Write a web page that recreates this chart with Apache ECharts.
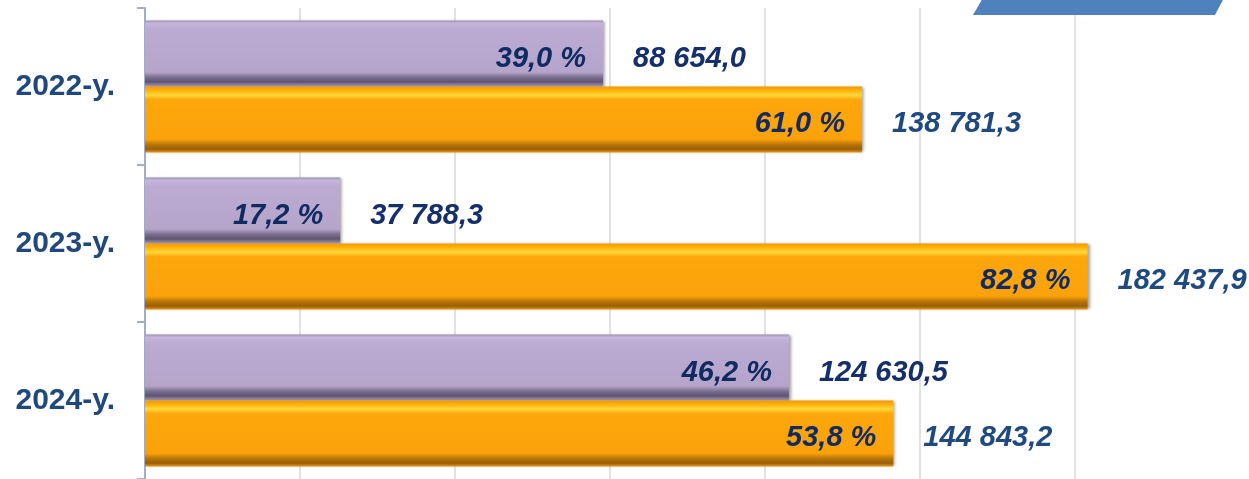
<!DOCTYPE html>
<html>
<head>
<meta charset="utf-8">
<script src="https://cdn.jsdelivr.net/npm/echarts@6/dist/echarts.min.js"></script>
<style>
  html, body { margin: 0; padding: 0; background: #ffffff; }
  #chart { width: 1249px; height: 479px; }
</style>
</head>
<body>
<div id="chart"></div>
<script>
const years = ['2022-y.', '2023-y.', '2024-y.']
const purpleValues = [88654.0, 37788.3, 124630.5]
const orangeValues = [138781.3, 182437.9, 144843.2]
const purpleShare = [39.0, 17.2, 46.2]
const orangeShare = [61.0, 82.8, 53.8]

const fmtNum = (v) => {
  const parts = v.toFixed(1).split('.')
  return parts[0].replace(/\B(?=(\d{3})+(?!\d))/g, ' ') + ',' + parts[1]
}
const fmtPct = (v) => v.toFixed(1).replace('.', ',') + ' %'

const FONT = 'Liberation Sans, Arial, sans-serif'

const purpleFill = new echarts.graphic.LinearGradient(0, 0, 0, 1, [
  { offset: 0, color: '#9C92B4' },
  { offset: 0.04, color: '#C6B5DC' },
  { offset: 0.14, color: '#BBAAD1' },
  { offset: 0.78, color: '#B6A5CB' },
  { offset: 0.86, color: '#7A6F8E' },
  { offset: 0.93, color: '#5E5470' },
  { offset: 1, color: '#A89DBE' }
])
const orangeFill = new echarts.graphic.LinearGradient(0, 0, 0, 1, [
  { offset: 0, color: '#F39A00' },
  { offset: 0.06, color: '#FFB10A' },
  { offset: 0.13, color: '#FFD83A' },
  { offset: 0.2, color: '#FDA70C' },
  { offset: 0.8, color: '#FBA20A' },
  { offset: 0.88, color: '#B87508' },
  { offset: 0.95, color: '#9A5E08' },
  { offset: 1, color: '#E9980E' }
])

// percent label inside the bar end
const pctLabel = (shares) => ({
  show: true,
  position: 'insideRight',
  distance: 17,
  offset: [0, 5],
  formatter: (p) => fmtPct(shares[p.dataIndex]),
  fontFamily: FONT,
  fontSize: 29,
  fontWeight: 'bold',
  fontStyle: 'italic',
  color: '#112B62'
})

// value label right of the bar (drawn on a zero-length bar stacked on top)
const valLabel = (values, color) => ({
  show: true,
  position: 'right',
  distance: 30,
  offset: [0, 5],
  formatter: (p) => fmtNum(values[p.dataIndex]),
  fontFamily: FONT,
  fontSize: 29,
  fontWeight: 'bold',
  fontStyle: 'italic',
  color: color
})

const barShadow = {
  shadowColor: 'rgba(40, 30, 20, 0.45)',
  shadowBlur: 3,
  shadowOffsetX: 2,
  shadowOffsetY: 0
}

const chart = echarts.init(document.getElementById('chart'))

chart.setOption({
  backgroundColor: '#ffffff',
  animation: false,
  grid: {
    left: 145,
    right: 19,
    top: 8,
    bottom: -6
  },
  xAxis: {
    type: 'value',
    min: 0,
    max: 210000,
    interval: 30000,
    axisLabel: { show: false },
    axisLine: { show: false },
    axisTick: { show: false },
    splitLine: {
      show: true,
      showMaxLine: false,
      lineStyle: { color: '#D9D9D9', width: 1.5 }
    }
  },
  yAxis: {
    type: 'category',
    data: years,
    inverse: true,
    axisLine: {
      show: true,
      lineStyle: { color: '#A3ACC8', width: 2 }
    },
    axisTick: {
      show: true,
      length: 8,
      lineStyle: { color: '#A3ACC8', width: 2 }
    },
    axisLabel: {
      margin: 30,
      padding: [6, 0, 0, 0],
      fontFamily: FONT,
      fontSize: 30,
      fontWeight: 'bold',
      color: '#1F497D'
    }
  },
  series: [
    {
      name: 'purple',
      type: 'bar',
      stack: 'p',
      data: purpleValues,
      barGap: 0,
      barCategoryGap: '16%',
      itemStyle: Object.assign({ color: purpleFill }, barShadow),
      label: pctLabel(purpleShare)
    },
    {
      name: 'purpleValue',
      type: 'bar',
      stack: 'p',
      data: purpleValues.map(() => 0),
      itemStyle: { color: 'transparent' },
      label: valLabel(purpleValues, '#142F6C')
    },
    {
      name: 'orange',
      type: 'bar',
      stack: 'o',
      data: orangeValues,
      barGap: 0,
      barCategoryGap: '16%',
      itemStyle: Object.assign({ color: orangeFill }, barShadow),
      label: pctLabel(orangeShare)
    },
    {
      name: 'orangeValue',
      type: 'bar',
      stack: 'o',
      data: orangeValues.map(() => 0),
      itemStyle: { color: 'transparent' },
      label: valLabel(orangeValues, '#1F4A80')
    }
  ],
  graphic: [
    {
      type: 'polygon',
      shape: { points: [[984, -4], [1225, -4], [1215, 15], [973, 15]] },
      style: { fill: '#4F81BD' },
      z: 10
    }
  ]
})

window.addEventListener('resize', () => chart.resize())
</script>
</body>
</html>
